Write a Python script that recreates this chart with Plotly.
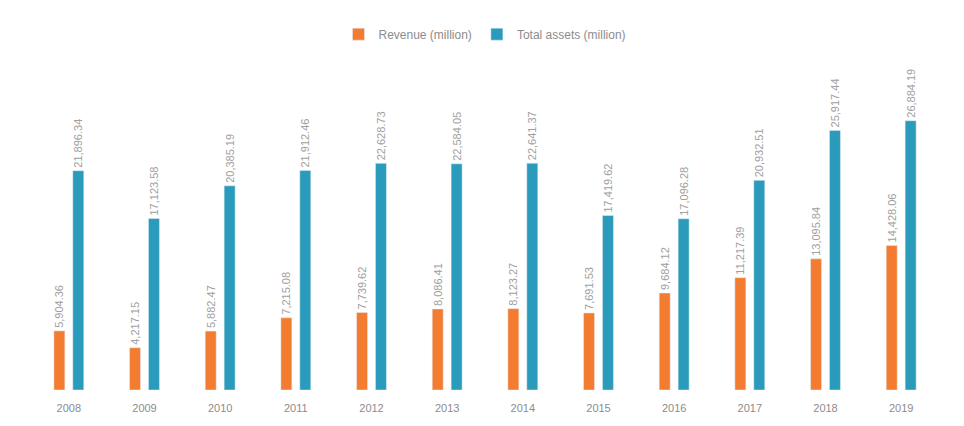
import plotly.graph_objects as go

categories = ["2008", "2009", "2010", "2011", "2012", "2013",
              "2014", "2015", "2016", "2017", "2018", "2019"]
series_a_name = "Revenue (million)"
series_b_name = "Total assets (million)"
series_a = [5904.36, 4217.15, 5882.47, 7215.08, 7739.62, 8086.41,
            8123.27, 7691.53, 9684.12, 11217.39, 13095.84, 14428.06]
series_b = [21896.34, 17123.58, 20385.19, 21912.46, 22628.73, 22584.05,
            22641.37, 17419.62, 17096.28, 20932.51, 25917.44, 26884.19]

orange = "#F47C30"
teal = "#2A9BBA"

fig = go.Figure()
fig.add_trace(go.Bar(
    x=categories, y=series_a, name=series_a_name,
    marker=dict(color=orange),
    text=[f"{v:,.2f}" for v in series_a],
    textposition="outside", textangle=-90,
    textfont=dict(color="#a0a0a0", size=11),
    constraintext="none", cliponaxis=False,
))
fig.add_trace(go.Bar(
    x=categories, y=series_b, name=series_b_name,
    marker=dict(color=teal),
    text=[f"{v:,.2f}" for v in series_b],
    textposition="outside", textangle=-90,
    textfont=dict(color="#a0a0a0", size=11),
    constraintext="none", cliponaxis=False,
))

fig.update_layout(
    width=964, height=426,
    margin=dict(l=23, r=33, t=53, b=44),
    paper_bgcolor="white", plot_bgcolor="white",
    barmode="group", bargap=0.5, bargroupgap=0.42,
    font=dict(family="Liberation Sans, Arial, sans-serif", color="#8c8c8c", size=12),
    legend=dict(orientation="h", x=0.5, xanchor="center", y=1.07, yanchor="bottom",
                font=dict(size=12, color="#8c8c8c")),
    showlegend=True,
)
fig.update_xaxes(showgrid=False, showline=False, ticks="", ticklabelstandoff=10,
                 tickfont=dict(size=11, color="#8c8c8c"))
fig.update_yaxes(visible=False, range=[0, 31850])

fig.write_html("out.html")
